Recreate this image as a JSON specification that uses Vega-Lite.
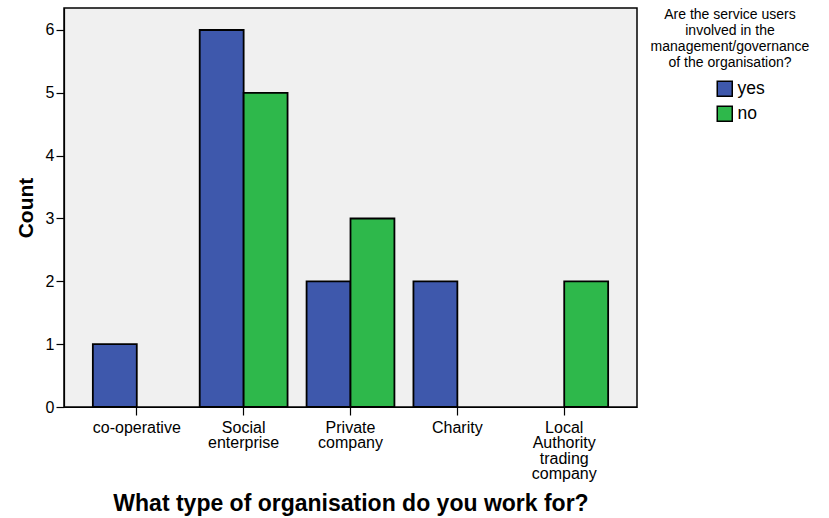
{
  "$schema": "https://vega.github.io/schema/vega-lite/v6.json",
  "autosize": "none",
  "width": 573,
  "height": 399,
  "padding": {"left": 64, "top": 8, "right": 192, "bottom": 111},
  "background": "white",
  "config": {
    "font": "Liberation Sans",
    "view": {"fill": "#f0f0f0", "stroke": "black", "strokeWidth": 1.5},
    "axis": {
      "domainColor": "black", "tickColor": "black", "labelColor": "black", "titleColor": "black",
      "grid": false, "tickSize": 8, "tickWidth": 1.2, "domainWidth": 1.2
    }
  },
  "data": {
    "values": [
      {"type": "co-operative", "answer": "yes", "count": 1},
      {"type": "Social enterprise", "answer": "yes", "count": 6},
      {"type": "Social enterprise", "answer": "no", "count": 5},
      {"type": "Private company", "answer": "yes", "count": 2},
      {"type": "Private company", "answer": "no", "count": 3},
      {"type": "Charity", "answer": "yes", "count": 2},
      {"type": "Local Authority trading company", "answer": "no", "count": 2}
    ]
  },
  "mark": {"type": "bar", "stroke": "black", "strokeWidth": 1.8},
  "encoding": {
    "x": {
      "field": "type", "type": "nominal",
      "sort": ["co-operative", "Social enterprise", "Private company", "Charity", "Local Authority trading company"],
      "scale": {"paddingInner": 0.178, "paddingOuter": 0.27},
      "axis": {
        "title": "What type of organisation do you work for?",
        "titleFontSize": 23, "titleFontWeight": "bold", "titlePadding": 11,
        "labelAngle": 0, "labelFontSize": 16, "labelLineHeight": 15.5, "labelPadding": 4,
        "labelExpr": "split(datum.label, ' ')", "labelLimit": 200
      }
    },
    "xOffset": {
      "field": "answer", "type": "nominal", "sort": ["yes", "no"],
      "scale": {"paddingInner": 0, "paddingOuter": 0}
    },
    "y": {
      "field": "count", "type": "quantitative",
      "scale": {"domain": [0, 6.35], "nice": false},
      "axis": {
        "title": "Count", "titleFontSize": 21, "titleFontWeight": "bold", "titlePadding": 9,
        "values": [0, 1, 2, 3, 4, 5, 6], "labelFontSize": 16, "labelPadding": 2, "format": "d"
      }
    },
    "color": {
      "field": "answer", "type": "nominal", "sort": ["yes", "no"],
      "scale": {"domain": ["yes", "no"], "range": ["#3e58ac", "#2eb84b"]},
      "legend": {
        "title": ["Are the service users", "involved in the", "management/governance", "of the organisation?"],
        "orient": "right", "offset": 14, "padding": 0,
        "titleFontSize": 14, "titleFontWeight": "normal", "titleLineHeight": 16,
        "titleAlign": "center", "titleAnchor": "middle", "titlePadding": 10, "titleLimit": 300,
        "symbolType": "square", "symbolSize": 225, "symbolStrokeColor": "black", "symbolStrokeWidth": 1.5,
        "symbolOffset": 20, "labelFontSize": 17.5, "labelOffset": 4, "rowPadding": 3,
        "labelColor": "black", "titleColor": "black"
      }
    }
  }
}
